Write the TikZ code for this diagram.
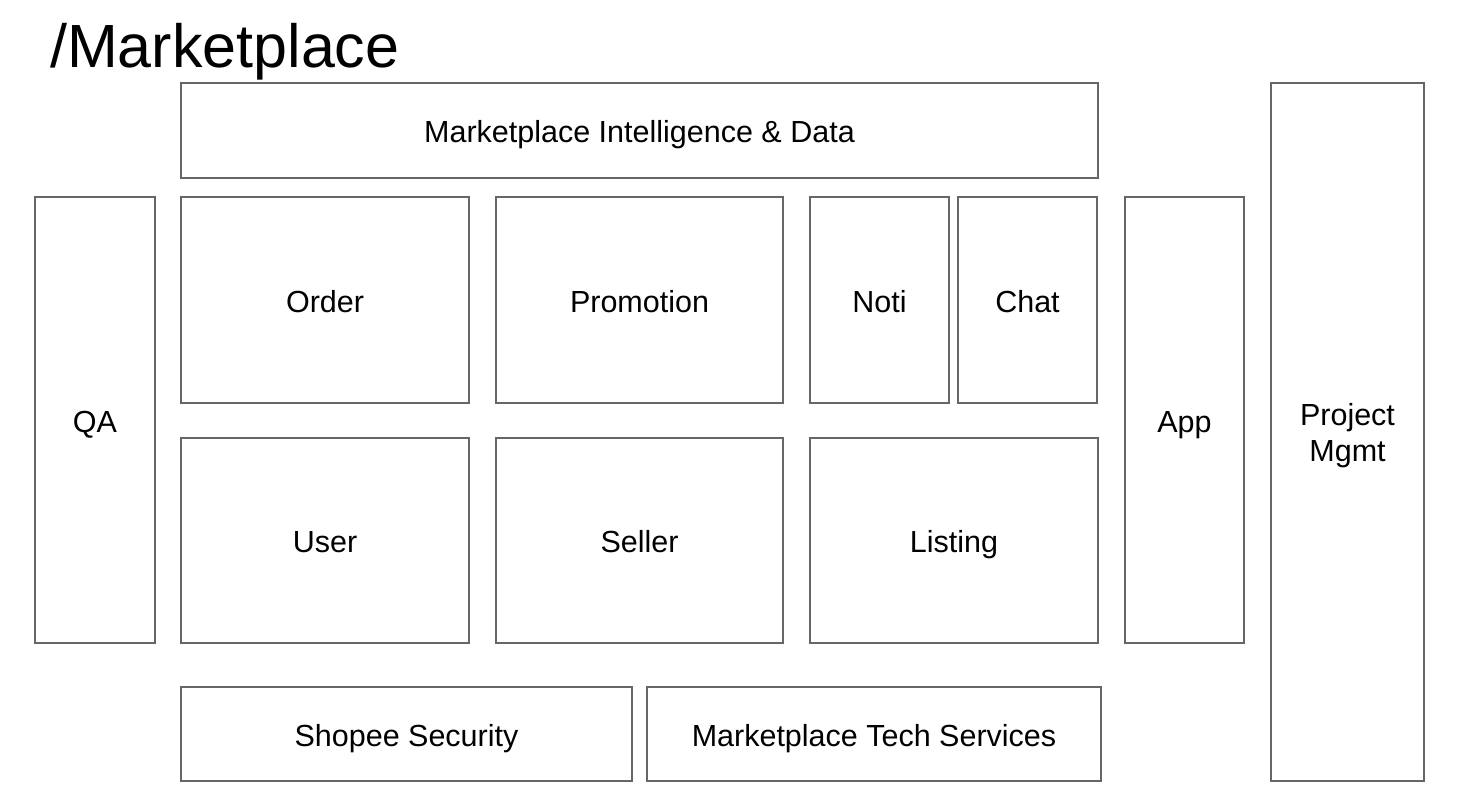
\documentclass[tikz,border=0pt]{standalone}
\usepackage{fontspec}
\setmainfont{Liberation Sans}
\begin{document}
\begin{tikzpicture}[x=1pt,y=-1pt,
  frame/.style={draw=black!60, line width=1.4pt, inner sep=0pt, font=\fontsize{30.5}{36}\selectfont, align=center},
  blk/.style={frame, text height=24pt, text depth=0pt},
  title/.style={inner sep=0pt, anchor=base west, font=\fontsize{61}{70}\selectfont}]
\useasboundingbox (0,0) rectangle (1481,800);
\newcommand\bx[7][blk]{\node[#1, minimum width=#5-#3, minimum height=#6-#4] (#2) at ({(#3+#5)/2},{(#4+#6)/2}) {#7};}
\node[title] (t) at (50,67) {/Marketplace};
\bx{mid}{181}{83}{1098}{178}{Marketplace Intelligence \& Data}
\bx{qa}{35}{197}{155}{643}{QA}
\bx{order}{181}{197}{469}{403}{Order}
\bx{promo}{496}{197}{783}{403}{Promotion}
\bx{noti}{810}{197}{949}{403}{Noti}
\bx{chat}{958}{197}{1097}{403}{Chat}
\bx{user}{181}{438}{469}{643}{User}
\bx{seller}{496}{438}{783}{643}{Seller}
\bx{listing}{810}{438}{1098}{643}{Listing}
\bx{app}{1125}{197}{1244}{643}{App}
\bx[frame]{pm}{1271}{83}{1424}{781}{}
\node[font=\fontsize{30.5}{36}\selectfont, align=center, inner sep=0pt] (pmtext) at ([yshift=-4pt]pm.center) {Project\\Mgmt};
\bx{sec}{181}{687}{632}{781}{Shopee Security}
\bx{mts}{647}{687}{1101}{781}{Marketplace Tech Services}
\end{tikzpicture}
\end{document}
